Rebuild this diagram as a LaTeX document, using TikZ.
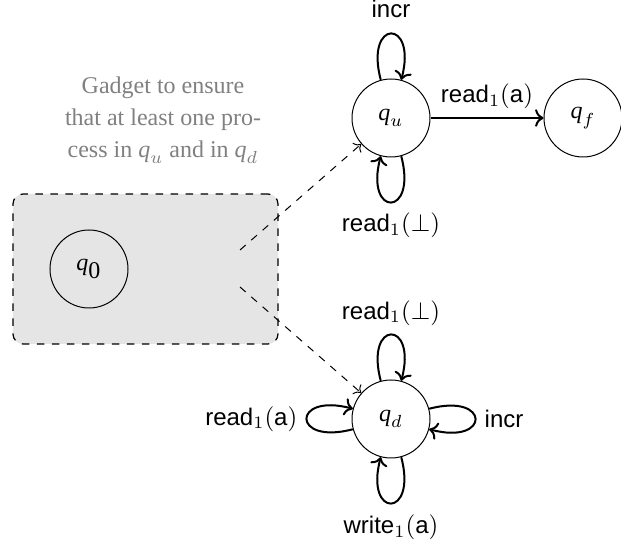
\documentclass[tikz,border=0pt]{standalone}
\usepackage{fontspec}
\setmainfont{Liberation Serif}
\setsansfont{Liberation Sans}
\usetikzlibrary{arrows.meta}
\newcommand\qq[1]{$\textit{q}_{#1}$}
\newcommand\qz{$\textit{q}_{\textrm{0}}$}
\newcommand\lread[1]{\textsf{read}$_1(\mbox{#1})$}
\newcommand\lwrite[1]{\textsf{write}$_1(\mbox{#1})$}
\begin{document}
\begin{tikzpicture}[x=0.4pt,y=0.4pt,
  font=\fontsize{9.6}{12.8}\selectfont,
  state/.style={draw,circle,minimum size=31.2pt,inner sep=0pt,line width=0.4pt},
  lp/.style={thick,->},
  dash arrow/.style={dashed,->,line width=0.4pt},
  gadget/.style={draw,dashed,rounded corners=4pt,fill=gray!20,line width=0.5pt}]
\useasboundingbox (0,0) rectangle (621,-552);
\node[gadget,minimum width=106pt,minimum height=60pt,inner sep=0pt] (box) at (145.5,-269) {};
\node[state] (q0) at (89,-269) {\qz};
\node[state] (qu) at (391,-118) {\qq{u}};
\node[state] (qf) at (583,-118) {\qq{f}};
\node[state] (qd) at (391,-419) {\qq{d}};
\node[text=gray,align=center] (txt) at (163,-120) {Gadget to ensure\\that at least one pro-\\cess in \qq{u} and in \qq{d}};
\coordinate (s1) at (240,-250);
\coordinate (s2) at (240,-287);
\draw[dash arrow] (s1) -- (qu);
\draw[dash arrow] (s2) -- (qd);
\draw[thick,->] (qu) -- node[above] {\lread{\textsf{a}}} (qf);
\draw[lp] (qu) to[loop above] node[above=2.5pt] {\textsf{incr}} (qu);
\draw[lp] (qu) to[loop below] node[below=0.5pt] {\lread{$\bot$}} (qu);
\draw[lp] (qd) to[loop above] node[above] {\lread{$\bot$}} (qd);
\draw[lp] (qd) to[loop below] node[below=1pt] {\lwrite{\textsf{a}}} (qd);
\draw[lp] (qd) to[loop left] node[left] {\lread{\textsf{a}}} (qd);
\draw[lp] (qd) to[loop right] node[right] {\textsf{incr}} (qd);
\end{tikzpicture}
\end{document}
